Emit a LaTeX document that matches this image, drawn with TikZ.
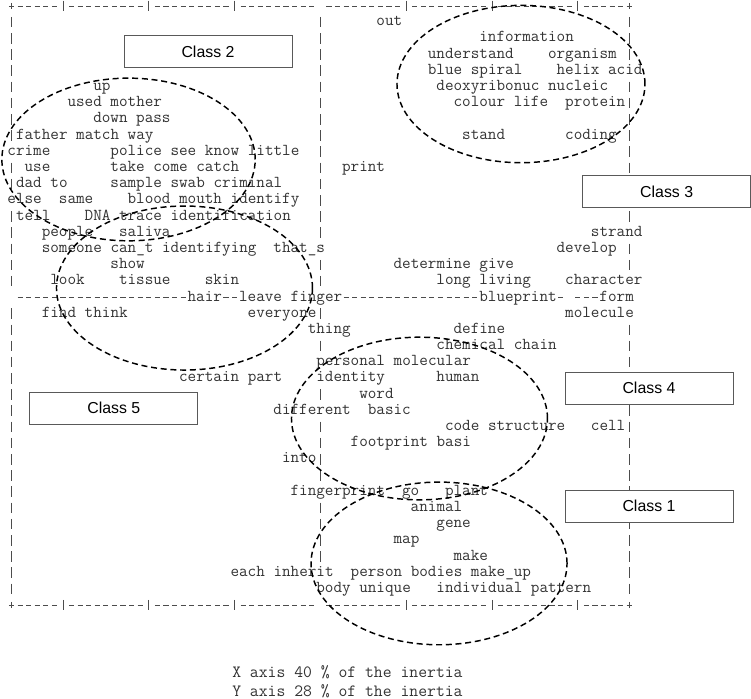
\documentclass[tikz,border=0pt]{standalone}
\usepackage{fontspec}
\newfontfamily\classfont{Liberation Sans}
\begin{document}
\begin{tikzpicture}[x=6.435pt,y=-12.1425pt,
	word/.style={anchor=west,inner xsep=0pt,inner ysep=1.8pt,text height=5.4pt,text depth=0pt,fill=white,text=black!80,font=\ttfamily\fontsize{12.51}{14}\selectfont},
	foot/.style={anchor=west,inner sep=0pt,text height=5.4pt,text depth=0pt,text=black!80,font=\ttfamily\fontsize{12.9}{14}\selectfont},
	classbox/.style={draw=black!65,fill=white,line width=0.6pt,minimum width=126pt,minimum height=24pt,inner sep=0pt,font=\classfont\fontsize{11.9}{14}\selectfont},
	cluster/.style={line width=1.1pt,dash pattern=on 4.5pt off 2.8pt},
	hdash/.style={black!70,line width=0.5pt,dash pattern=on 3.861pt off 2.574pt},
	vdash/.style={black!70,line width=0.5pt,dash pattern=on 7.892pt off 4.25pt}]
		\useasboundingbox (-0.8403,-0.3706) rectangle (86.689,42.804);
		\foreach \a/\b in {1/5,7/15,17/25,27/35,37/45,47/55,57/65,67/71}
			\draw[hdash] (\a+0.2,0) -- (\b+0.8,0) (\a+0.2,37) -- (\b+0.8,37);
		\foreach \c in {6,16,26,46,56,66}
			\draw[black!70,line width=0.5pt] (\c+0.5,-0.325) -- (\c+0.5,0.325) (\c+0.5,36.675) -- (\c+0.5,37.325);
		\foreach \c in {0,72}
			\foreach \r in {0,37}
				\draw[black!70,line width=0.5pt] (\c+0.2,\r) -- (\c+0.8,\r) (\c+0.5,\r-0.2) -- (\c+0.5,\r+0.2);
		\draw[vdash] (0.5,0.675) -- (0.5,17.325) (0.5,18.675) -- (0.5,36.325);
		\draw[vdash] (36.5,0.675) -- (36.5,36.325) (72.5,0.675) -- (72.5,36.325);
		\draw[hdash] (1.2,18) -- (64.8,18) (66.2,18) -- (68.8,18);
		\node[word] (out) at (43,1) {out};
		\node[word] (information) at (55,2) {information};
		\node[word] (understand) at (49,3) {understand}; \node[word] (organism) at (63,3) {organism};
		\node[word] (bluespiral) at (49,4) {blue spiral}; \node[word] (helixacid) at (64,4) {helix acid};
		\node[word] (up) at (10,5) {up}; \node[word] (deoxyribonuc) at (50,5) {deoxyribonuc nucleic};
		\node[word] (usedmother) at (7,6) {used mother}; \node[word] (colourlife) at (52,6) {colour life}; \node[word] (protein) at (65,6) {protein};
		\node[word] (downpass) at (10,7) {down pass};
		\node[word] (father) at (1,8) {father match way}; \node[word] (stand) at (53,8) {stand}; \node[word] (coding) at (65,8) {coding};
		\node[word] (crime) at (0,9) {crime}; \node[word] (police) at (12,9) {police see know little};
		\node[word] (use) at (2,10) {use}; \node[word] (take) at (12,10) {take come catch}; \node[word] (print) at (39,10) {print};
		\node[word] (dadto) at (1,11) {dad to}; \node[word] (sample) at (12,11) {sample swab criminal};
		\node[word] (else) at (0,12) {else}; \node[word] (same) at (6,12) {same}; \node[word] (blood) at (14,12) {blood mouth identify};
		\node[word] (tell) at (1,13) {tell}; \node[word] (dna) at (9,13) {DNA trace identification};
		\node[word] (people) at (4,14) {people}; \node[word] (saliva) at (13,14) {saliva}; \node[word] (strand) at (68,14) {strand};
		\node[word] (someone) at (4,15) {someone can\_t identifying}; \node[word] (thats) at (31,15) {that\_s}; \node[word] (develop) at (64,15) {develop};
		\node[word] (show) at (12,16) {show}; \node[word] (determine) at (45,16) {determine give};
		\node[word] (look) at (5,17) {look}; \node[word] (tissue) at (13,17) {tissue}; \node[word] (skin) at (23,17) {skin};
		\node[word] (long) at (50,17) {long living}; \node[word] (character) at (65,17) {character};
		\node[word] (hair) at (21,18) {hair}; \node[word] (leave) at (27,18) {leave finger}; \node[word] (blueprint) at (55,18) {blueprint}; \node[word] (form) at (69,18) {form};
		\node[word] (find) at (4,19) {find think}; \node[word] (everyone) at (28,19) {everyone}; \node[word] (molecule) at (65,19) {molecule};
		\node[word] (thing) at (35,20) {thing}; \node[word] (define) at (52,20) {define};
		\node[word] (chemical) at (50,21) {chemical chain};
		\node[word] (personal) at (36,22) {personal molecular};
		\node[word] (certain) at (20,23) {certain part}; \node[word] (identity) at (36,23) {identity}; \node[word] (human) at (50,23) {human};
		\node[word] (word) at (41,24) {word};
		\node[word] (different) at (31,25) {different}; \node[word] (basic) at (42,25) {basic};
		\node[word] (code) at (51,26) {code structure}; \node[word] (cell) at (68,26) {cell};
		\node[word] (footprint) at (40,27) {footprint basi};
		\node[word] (into) at (32,28) {into};
		\node[word] (fingerprint) at (33,30) {fingerprint}; \node[word] (go) at (46,30) {go}; \node[word] (plant) at (51,30) {plant};
		\node[word] (animal) at (47,31) {animal};
		\node[word] (gene) at (50,32) {gene};
		\node[word] (map) at (45,33) {map};
		\node[word] (make) at (52,34) {make};
		\node[word] (each) at (26,35) {each inherit}; \node[word] (person) at (40,35) {person bodies make\_up};
		\node[word] (body) at (36,36) {body unique}; \node[word] (individual) at (50,36) {individual pattern};
		\draw[cluster] (14.14,9.48) ellipse [x radius=95pt,y radius=61pt];
		\draw[cluster] (20.66,17.42) ellipse [x radius=96pt,y radius=61.5pt];
		\draw[cluster] (59.88,4.82) ellipse [x radius=93pt,y radius=59pt];
		\draw[cluster] (48.05,25.48) ellipse [x radius=96pt,y radius=61pt];
		\draw[cluster] (50.33,34.43) ellipse [x radius=96pt,y radius=61pt];
		\node[classbox] (class2) at (23.40,2.81) {Class 2};
		\node[classbox] (class3) at (76.86,11.47) {Class 3};
		\node[classbox] (class4) at (74.80,23.59) {Class 4};
		\node[classbox] (class1) at (74.80,30.88) {Class 1};
		\node[classbox] (class5) at (12.42,24.85) {Class 5};
		\node[foot] (xaxis) at (26.2,41.26) {X axis 40 \% of the inertia};
		\node[foot] (yaxis) at (26.2,42.43) {Y axis 28 \% of the inertia};
		\end{tikzpicture}
\end{document}
